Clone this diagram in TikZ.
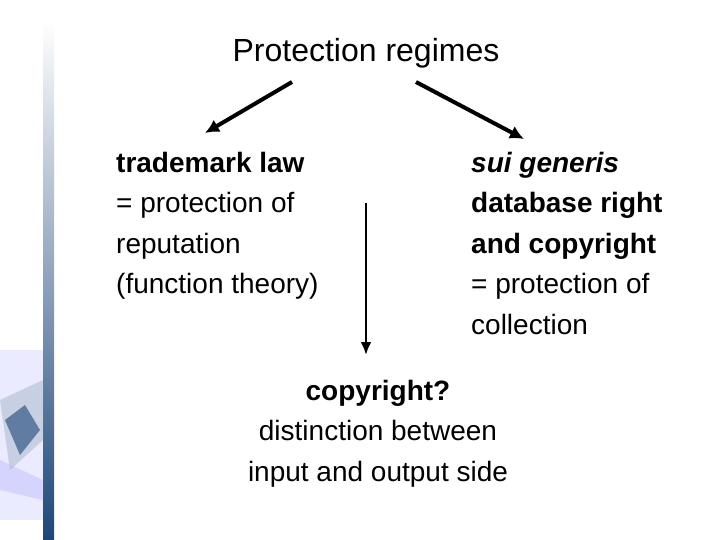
\documentclass[tikz,border=0pt]{standalone}
\usepackage{fontspec}
\usetikzlibrary{arrows.meta}
\setmainfont{Liberation Sans}
\begin{document}
\begin{tikzpicture}[x=1pt,y=-1pt,
  txt/.style={inner sep=0pt,font=\fontsize{28}{40.5}\selectfont},
  arr/.style={line width=4pt,-{Latex[length=14pt,width=14pt]}},
  varr/.style={line width=2.5pt,-{Latex[length=13pt,width=11pt]}}]
\useasboundingbox (0,0) rectangle (720,540);
\fill[white] (0,0) rectangle (720,540);
\definecolor{barblue}{RGB}{30,70,120}
\shade[top color=white,bottom color=barblue] (43,20) rectangle (54,540);
% decorative blot
\fill[blue!15!white,opacity=0.5] (0,350) rectangle (43,520);
\fill[barblue!40,opacity=0.5] (0,400) -- (43,380) -- (43,440) -- (10,470) -- cycle;
\fill[barblue,opacity=0.6] (5,420) -- (25,405) -- (40,430) -- (20,455) -- cycle;
\fill[blue!30!white,opacity=0.4] (0,460) -- (43,480) -- (43,500) -- (0,490) -- cycle;
\node[txt,font=\fontsize{32}{38}\selectfont,anchor=base] (title) at (366,62) {Protection regimes};
\node[txt,align=left,anchor=base west] (left) at (116,293.5) {\textbf{trademark law}\\= protection of\\reputation\\(function theory)};
\node[txt,align=left,anchor=base west] (right) at (471,334) {\textbf{\textit{sui generis}}\\\textbf{database right}\\\textbf{and copyright}\\= protection of\\collection};
\node[txt,align=center,anchor=base] (bottom) at (378,481) {\textbf{copyright?}\\distinction between\\input and output side};
\coordinate (a1) at (292,82); \coordinate (a2) at (205,133);
\coordinate (b1) at (416,82); \coordinate (b2) at (524,139);
\coordinate (c1) at (366,203); \coordinate (c2) at (366,355);
\draw[arr] (a1) -- (a2);
\draw[arr] (b1) -- (b2);
\draw[varr] (c1) -- (c2);
\end{tikzpicture}
\end{document}
